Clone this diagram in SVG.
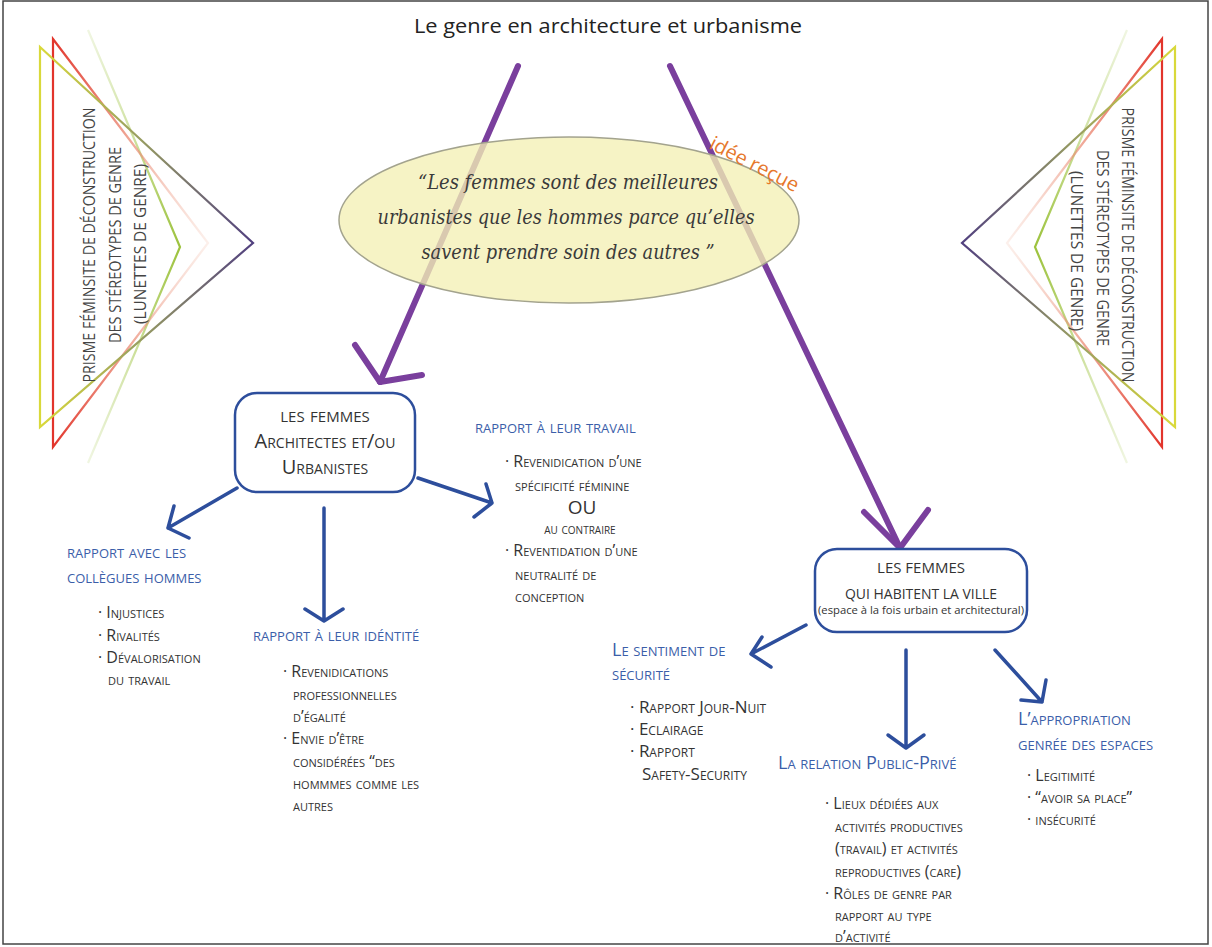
<svg xmlns="http://www.w3.org/2000/svg" width="1212" height="947" viewBox="0 0 1212 947">
<defs>
<style>
text{font-family:"Open Sans","Noto Sans",sans-serif;fill:#333}
.sc{font-variant:small-caps}
.item{font-size:16px}
.item2{font-size:17px}
.lbl{font-size:18px;fill:#3b5ea9;font-variant:small-caps}
.lbl2{font-size:18px;fill:#3b5ea9;font-variant:small-caps}
.box{fill:#fff;stroke:#2d4e9c;stroke-width:2.5}
.barr{fill:none;stroke:#2d4e9c;stroke-width:3.5;stroke-linecap:round;stroke-linejoin:round}
.parr{fill:none;stroke:#7a3f9d;stroke-width:6;stroke-linecap:round;stroke-linejoin:round}
.tri{fill:none;stroke-width:2.2;stroke-linejoin:miter}
.prism{font-size:17px;fill:#444}
.quote{font-family:"DejaVu Serif","Liberation Serif",serif;font-style:italic;font-size:20px;fill:#3a3a3a}
.title{font-size:20px;fill:#222}
.idee{font-size:20px;fill:#e6782c}
</style>
<linearGradient id="gYL" gradientUnits="userSpaceOnUse" x1="40" y1="0" x2="253" y2="0">
<stop offset="0" stop-color="#d9d93a"/><stop offset="0.45" stop-color="#9aa060"/><stop offset="1" stop-color="#51407f"/></linearGradient>
<linearGradient id="gRL" gradientUnits="userSpaceOnUse" x1="53" y1="0" x2="208" y2="0">
<stop offset="0" stop-color="#e2342b"/><stop offset="0.5" stop-color="#e9826a" stop-opacity="0.7"/><stop offset="1" stop-color="#f3c2b0" stop-opacity="0.25"/></linearGradient>
<linearGradient id="gGL" gradientUnits="userSpaceOnUse" x1="88" y1="0" x2="180" y2="0">
<stop offset="0" stop-color="#9cc23c" stop-opacity="0.15"/><stop offset="0.45" stop-color="#9cc23c" stop-opacity="0.45"/><stop offset="1" stop-color="#9cc23c"/></linearGradient>
<linearGradient id="gYR" gradientUnits="userSpaceOnUse" x1="1175" y1="0" x2="962" y2="0">
<stop offset="0" stop-color="#d9d93a"/><stop offset="0.45" stop-color="#9aa060"/><stop offset="1" stop-color="#51407f"/></linearGradient>
<linearGradient id="gRR" gradientUnits="userSpaceOnUse" x1="1162" y1="0" x2="1007" y2="0">
<stop offset="0" stop-color="#e2342b"/><stop offset="0.5" stop-color="#e9826a" stop-opacity="0.7"/><stop offset="1" stop-color="#f3c2b0" stop-opacity="0.25"/></linearGradient>
<linearGradient id="gGR" gradientUnits="userSpaceOnUse" x1="1127" y1="0" x2="1035" y2="0">
<stop offset="0" stop-color="#9cc23c" stop-opacity="0.15"/><stop offset="0.45" stop-color="#9cc23c" stop-opacity="0.45"/><stop offset="1" stop-color="#9cc23c"/></linearGradient>
</defs>
<rect x="0" y="0" width="1212" height="947" fill="#fff"/>
<rect x="3" y="1" width="1205" height="943" fill="none" stroke="#444" stroke-width="1.5"/>

<g id="prism-left">
<path class="tri" stroke="url(#gGL)" d="M88,30 L180,247 L88,463"/>
<path class="tri" stroke="url(#gRL)" d="M53,39 L208,243 L53,447 Z"/>
<path class="tri" stroke="url(#gYL)" d="M40,47 L253,243 L40,427 Z"/>
<text class="prism" transform="translate(95,245) rotate(-90)" text-anchor="middle" textLength="275" lengthAdjust="spacingAndGlyphs">PRISME FÉMINSITE DE DÉCONSTRUCTION</text>
<text class="prism" transform="translate(121,245) rotate(-90)" text-anchor="middle" textLength="196" lengthAdjust="spacingAndGlyphs">DES STÉREOTYPES DE GENRE</text>
<text class="prism" transform="translate(146,244) rotate(-90)" text-anchor="middle" textLength="160" lengthAdjust="spacingAndGlyphs">(LUNETTES DE GENRE)</text>
</g>

<g id="prism-right">
<path class="tri" stroke="url(#gGR)" d="M1127,30 L1035,247 L1127,463"/>
<path class="tri" stroke="url(#gRR)" d="M1162,39 L1007,243 L1162,447 Z"/>
<path class="tri" stroke="url(#gYR)" d="M1175,47 L962,243 L1175,427 Z"/>
<text class="prism" transform="translate(1122,245) rotate(90)" text-anchor="middle" textLength="275" lengthAdjust="spacingAndGlyphs">PRISME FÉMINSITE DE DÉCONSTRUCTION</text>
<text class="prism" transform="translate(1097,248) rotate(90)" text-anchor="middle" textLength="196" lengthAdjust="spacingAndGlyphs">DES STÉREOTYPES DE GENRE</text>
<text class="prism" transform="translate(1071,251) rotate(90)" text-anchor="middle" textLength="160" lengthAdjust="spacingAndGlyphs">(LUNETTES DE GENRE)</text>
</g>

<g id="title">
<text class="title" x="608" y="33" text-anchor="middle" textLength="388" lengthAdjust="spacingAndGlyphs">Le genre en architecture et urbanisme</text>
</g>

<g id="connectors">
<path class="parr" d="M518,66 L380,382"/>
<path class="parr" d="M355,345 L380,382 L422,375"/>
<path class="parr" d="M670,66 L900,548"/>
<path class="parr" d="M864,512 L900,548 L928,510"/>
<path class="barr" d="M237,488 L168,528 M174,506 L168,528 L189,538"/>
<path class="barr" d="M324,508 L324,621 M305,609 L324,621 L343,609"/>
<path class="barr" d="M418,478 L492,503 M486,484 L492,503 L474,517"/>
<path class="barr" d="M806,625 L751,654 M762,637 L751,654 L771,667"/>
<path class="barr" d="M906,650 L906,748 M888,735 L906,748 L924,735"/>
<path class="barr" d="M995,650 L1042,702 M1046,680 L1042,702 L1021,700"/>
</g>

<g id="idee-recue">
<ellipse cx="569" cy="220" rx="230" ry="83" fill="#f4efb5" fill-opacity="0.78" stroke="#a3a38e" stroke-width="1.5"/>
<text class="quote" x="568" y="189" text-anchor="middle" textLength="300" lengthAdjust="spacingAndGlyphs">“Les femmes sont des meilleures</text>
<text class="quote" x="566" y="224" text-anchor="middle" textLength="377" lengthAdjust="spacingAndGlyphs">urbanistes que les hommes parce qu’elles</text>
<text class="quote" x="568" y="259" text-anchor="middle" textLength="293" lengthAdjust="spacingAndGlyphs">savent prendre soin des autres ”</text>
<text class="idee" x="708" y="148" transform="rotate(27 708 148)">idée reçue</text>
</g>

<g id="node-architectes">
<rect class="box" x="235" y="393" width="180" height="99" rx="22"/>
<text class="sc" x="325" y="422" text-anchor="middle" font-size="21">les femmes</text>
<text class="sc" x="325" y="448" text-anchor="middle" font-size="20">Architectes et/ou</text>
<text class="sc" x="325" y="474" text-anchor="middle" font-size="20">Urbanistes</text>
</g>

<g id="node-collegues">
<text class="lbl" x="67" y="558">rapport avec les</text>
<text class="lbl" x="67" y="583">collègues hommes</text>
<text class="sc item" x="98" y="618">· Injustices</text>
<text class="sc item" x="98" y="641">· Rivalités</text>
<text class="sc item" x="98" y="663">· Dévalorisation</text>
<text class="sc item" x="108" y="685">du travail</text>
</g>

<g id="node-identite">
<text class="lbl" x="253" y="641">rapport à leur idéntité</text>
<text class="sc item" x="283" y="677">· Revenidications</text>
<text class="sc item" x="293" y="700">professionnelles</text>
<text class="sc item" x="293" y="722">d’égalité</text>
<text class="sc item" x="283" y="744">· Envie d’être</text>
<text class="sc item" x="293" y="767">considérées “des</text>
<text class="sc item" x="293" y="789">hommmes comme les</text>
<text class="sc item" x="293" y="811">autres</text>
</g>

<g id="node-travail">
<text class="lbl" x="475" y="433">rapport à leur travail</text>
<text class="sc item" x="505" y="467">· Revenidication d’une</text>
<text class="sc item" x="515" y="491">spécificité féminine</text>
<text x="582" y="514" text-anchor="middle" font-size="19">OU</text>
<text class="sc" x="580" y="534" text-anchor="middle" font-size="14">au contraire</text>
<text class="sc item" x="505" y="556">· Reventidation d’une</text>
<text class="sc item" x="515" y="580">neutralité de</text>
<text class="sc item" x="515" y="602">conception</text>
</g>

<g id="node-habitent">
<rect class="box" x="815" y="549" width="212" height="83" rx="22"/>
<text x="921" y="573" text-anchor="middle" font-size="15">LES FEMMES</text>
<text x="921" y="599" text-anchor="middle" font-size="15" textLength="152" lengthAdjust="spacingAndGlyphs">QUI HABITENT LA VILLE</text>
<text x="921" y="614" text-anchor="middle" font-size="11" textLength="206" lengthAdjust="spacingAndGlyphs">(espace à la fois urbain et architectural)</text>
</g>

<g id="node-securite">
<text class="lbl2" x="612" y="656">Le sentiment de</text>
<text class="lbl2" x="612" y="680">sécurité</text>
<text class="sc item2" x="630" y="713">· Rapport Jour-Nuit</text>
<text class="sc item2" x="630" y="735">· Eclairage</text>
<text class="sc item2" x="630" y="757">· Rapport</text>
<text class="sc item2" x="642" y="780">Safety-Security</text>
</g>

<g id="node-public-prive">
<text class="lbl2" x="778" y="769">La relation Public-Privé</text>
<text class="sc item" x="825" y="809">· Lieux dédiées aux</text>
<text class="sc item" x="835" y="832">activités productives</text>
<text class="sc item" x="835" y="854">(travail) et activités</text>
<text class="sc item" x="835" y="877">reproductives (care)</text>
<text class="sc item" x="825" y="899">· Rôles de genre par</text>
<text class="sc item" x="835" y="921">rapport au type</text>
<text class="sc item" x="835" y="942">d’activité</text>
</g>

<g id="node-appropriation">
<text class="lbl2" x="1018" y="725">L’appropriation</text>
<text class="lbl2" x="1018" y="750">genrée des espaces</text>
<text class="sc item" x="1027" y="781">· Legitimité</text>
<text class="sc item" x="1027" y="803">· “avoir sa place”</text>
<text class="sc item" x="1027" y="825">· insécurité</text>
</g>
</svg>
